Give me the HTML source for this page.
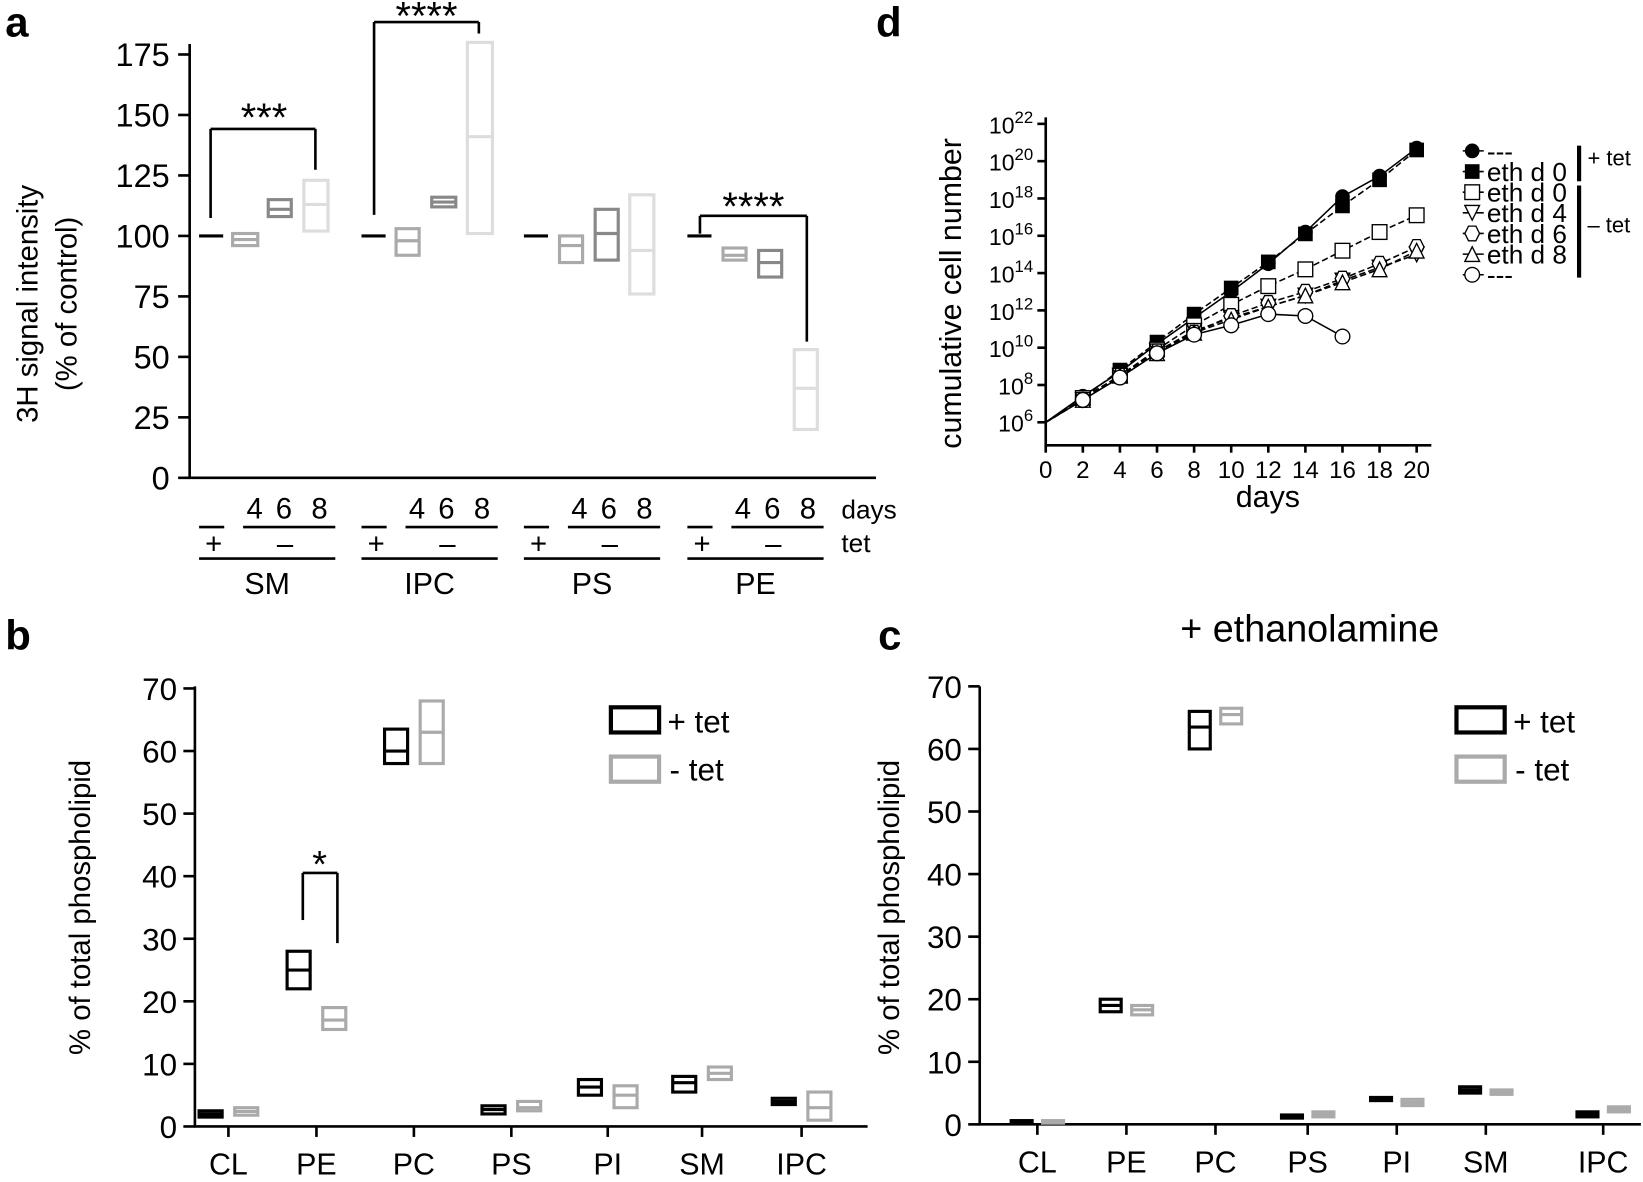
<!DOCTYPE html><html><head><meta charset="utf-8"><style>body{margin:0;background:#fff}svg{display:block}text{font-family:"Liberation Sans",sans-serif}</style></head><body>
<svg id="s" width="1643" height="1182" viewBox="0 0 1568 1128" preserveAspectRatio="none" xmlns="http://www.w3.org/2000/svg"></svg>
<script>
const S=document.getElementById('s');let h='';
function L(x1,y1,x2,y2,c='#000',w=2.5,d=''){h+=`<line x1="${x1}" y1="${y1}" x2="${x2}" y2="${y2}" stroke="${c}" stroke-width="${w}" ${d?`stroke-dasharray="${d}"`:''}/>`}
function T(x,y,t,sz=28,a='middle',ex=''){h+=`<text x="${x}" y="${y}" font-size="${sz}" text-anchor="${a}" ${ex}>${t}</text>`}
function B(x1,x2,y1,y2,ym,c,w=3){h+=`<rect x="${x1}" y="${Math.min(y1,y2)}" width="${x2-x1}" height="${Math.abs(y2-y1)}" fill="none" stroke="${c}" stroke-width="${w}"/>`;L(x1,ym,x2,ym,c,w)}
T(5,35,'a',40,'start','font-weight="bold"');T(5,620,'b',40,'start','font-weight="bold"');T(838,620,'c',40,'start','font-weight="bold"');T(836,35,'d',40,'start','font-weight="bold"');
{const ya=v=>456-v*(404/175);L(181,42,181,457);L(180,456,836,456);
for(let v=0;v<=175;v+=25){L(170,ya(v),181,ya(v));T(162,ya(v)+11,v,31,'end')}
h+=`<text transform="translate(36,290) rotate(-90)" font-size="28" text-anchor="middle">3H signal intensity</text><text transform="translate(73,290) rotate(-90)" font-size="28" text-anchor="middle">(% of control)</text>`;
const G=[[190,[[222,246,96,101,98.5],[256,278,108,115,111],[290,313,102,123,113]]],[345,[[378,400,92,103,98],[412,435,112,116,114],[446,470,101,180,141]]],[500,[[534,556,89,100,96],[568,590,90,111,101],[601,624,76,117,94]]],[656,[[690,712,90,95,92],[724,746,83,94,89],[758,780,20,53,37]]]];
const cols=['#aaa','#888','#ddd'];const names=['SM','IPC','PS','PE'];
G.forEach((g,i)=>{L(g[0],ya(100),g[0]+23,ya(100),'#000',3);g[1].forEach((b,j)=>B(b[0],b[1],ya(b[2]),ya(b[3]),ya(b[4]),cols[j]));
const x0=g[0];T(x0+53,495,'4',28);T(x0+81,495,'6',28);T(x0+115,495,'8',28);
L(x0,503,x0+24,503);L(x0+42,503,x0+130,503);T(x0+14,528,'+',28);T(x0+82,528,'–',28);L(x0,533,x0+130,533);T(x0+65,567,names[i],29)});
T(803,495,'days',25,'start');T(803,527,'tet',25,'start');
L(201,208,201,123);L(201,123,301,123);L(301,123,301,162);T(252,125,'***',38);
L(357,205,357,21);L(357,21,457,21);L(457,21,457,32);T(407,28,'****',38);
L(668,223,668,206);L(668,206,770,206);L(770,206,770,326);T(719,210,'****',38);}
function bar(ax,yb,xend,cats,vals,cx,bw,off,legx,ylx){const yv=v=>yb-v*(418/70);L(ax,655,ax,yb+1);L(ax-1,yb,xend,yb);
for(let v=0;v<=70;v+=10){L(ax-11,yv(v),ax,yv(v));T(ax-17,yv(v)+11,v,30,'end')}
cats.forEach((c,i)=>{L(cx[i],yb,cx[i],yb+10);T(cx[i],yb+46,c,29);const[k,g]=vals[i];
B(cx[i]-off-bw/2,cx[i]-off+bw/2,yv(k[0]),yv(k[1]),yv(k[2]),'#000');B(cx[i]+off-bw/2,cx[i]+off+bw/2,yv(g[0]),yv(g[1]),yv(g[2]),'#aaa')});
h+=`<rect x="${legx}" y="675" width="46" height="24" fill="none" stroke="#000" stroke-width="4"/><rect x="${legx}" y="722" width="46" height="24" fill="none" stroke="#aaa" stroke-width="4"/>`;
T(legx+54,699,'+ tet',30,'start');T(legx+56,745,'- tet',30,'start');
h+=`<text transform="translate(${ylx},866) rotate(-90)" font-size="28" text-anchor="middle">% of total phospholipid</text>`}
const cats=['CL','PE','PC','PS','PI','SM','IPC'];
bar(186,1075,828,cats,[[[1.5,2.5,2],[1.8,3,2.4]],[[22,28,25],[15.5,19,17]],[[58,63.5,60],[58,68,63]],[[2,3.3,2.7],[2.5,4,3]],[[5,7.5,6.3],[3,6.5,5]],[[5.5,8,7],[7.5,9.5,8.5]],[[3.5,4.5,4],[1,5.5,3]]],[218,302,395,488,580,670,765],22,17,583,86);
L(289,878,289,833);L(289,833,322,833);L(322,833,322,900);T(305,837,'*',36);
bar(935,1073,1566,cats,[[[0.2,0.6,0.4],[0.2,0.6,0.4]],[[18,20,19],[17.5,19,18.3]],[[60,66,63.5],[64,66.5,65.5]],[[1,1.5,1.2],[1.2,2,1.6]],[[3.8,4.3,4],[3,4,3.5]],[[5,6,5.5],[4.8,5.5,5.1]],[[1.2,2,1.6],[2,2.8,2.4]]],[990,1075,1160,1248,1333,1418,1530],20,15,1390,858);
T(1250,612,'+ ethanolamine',36);
{const X=d=>998+d*17.7,Y=e=>403-(e-6)*17.8;L(998,112,998,426);L(997,425,1366,425);
for(let e=6;e<=22;e+=2){L(990,Y(e),998,Y(e));h+=`<text x="986" y="${Y(e)+9}" font-size="22" text-anchor="end">10<tspan font-size="16" dy="-10">${e}</tspan></text>`}
for(let d=0;d<=20;d+=2){L(X(d),425,X(d),432);T(X(d),456,d,23)}
T(1210,484,'days',29);h+=`<text transform="translate(917,280) rotate(-90)" font-size="29" text-anchor="middle">cumulative cell number</text>`;
const ser=[['fc',[6,7.4,8.7,10.2,11.6,13,14.5,16.2,18.1,19.2,20.7],''],['fs',[6,7.3,8.8,10.3,11.8,13.2,14.6,16.1,17.6,19,20.6],'6,3'],['os',[6,7.3,8.5,9.9,11.2,12.3,13.3,14.2,15.2,16.2,17.1],'6,3'],['dt',[6,7.2,8.5,9.8,10.9,11.6,12.2,12.8,13.6,14.3,15],'6,3'],['hx',[6,7.2,8.5,9.8,10.8,11.7,12.4,13,13.7,14.5,15.4],'6,3'],['ut',[6,7.2,8.5,9.7,10.8,11.5,12.2,12.8,13.5,14.2,15.2],'6,3'],['oc',[6,7.2,8.4,9.7,10.7,11.2,11.8,11.7,10.6],'']];
function M(t,x,y){const r=7;if(t=='fc')h+=`<circle cx="${x}" cy="${y}" r="${r}" fill="#000"/>`;else if(t=='oc')h+=`<circle cx="${x}" cy="${y}" r="${r}" fill="#fff" stroke="#000" stroke-width="1.3"/>`;else if(t=='fs')h+=`<rect x="${x-r}" y="${y-r}" width="${2*r}" height="${2*r}" fill="#000"/>`;else if(t=='os')h+=`<rect x="${x-r}" y="${y-r}" width="${2*r}" height="${2*r}" fill="#fff" stroke="#000" stroke-width="1.3"/>`;else if(t=='dt')h+=`<polygon points="${x-r},${y-r} ${x+r},${y-r} ${x},${y+r}" fill="#fff" stroke="#000" stroke-width="1.3"/>`;else if(t=='ut')h+=`<polygon points="${x-r},${y+r} ${x+r},${y+r} ${x},${y-r}" fill="#fff" stroke="#000" stroke-width="1.3"/>`;else h+=`<polygon points="${x-r},${y} ${x-r/2},${y-r} ${x+r/2},${y-r} ${x+r},${y} ${x+r/2},${y+r} ${x-r/2},${y+r}" fill="#fff" stroke="#000" stroke-width="1.3"/>`}
ser.forEach(s=>{h+=`<polyline points="${s[1].map((v,i)=>X(2*i)+','+Y(v)).join(' ')}" fill="none" stroke="#000" stroke-width="1.5" ${s[2]?`stroke-dasharray="${s[2]}"`:''}/>`});
ser.forEach(s=>s[1].forEach((v,i)=>{if(i>0)M(s[0],X(2*i),Y(v))}));
const lab=['---','eth d 0','eth d 0','eth d 4','eth d 6','eth d 8','---'];
ser.forEach((s,i)=>{const y=144+i*19.7;L(1396,y,1416,y,'#000',1.5);M(s[0],1405,y);T(1419,y+9,lab[i],25,'start')});
L(1507,139,1507,173,'#000',4);L(1507,177,1507,265,'#000',4);T(1515,158,'+ tet',21,'start');T(1515,222,'– tet',21,'start');}
S.innerHTML=h;
</script></body></html>
